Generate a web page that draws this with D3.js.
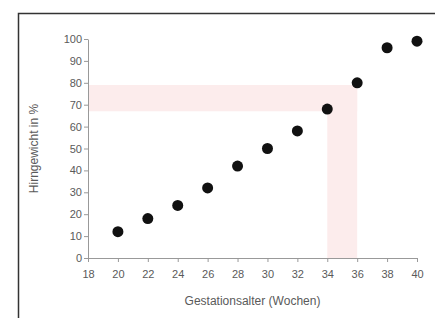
<!DOCTYPE html>
<html>
<head>
<meta charset="utf-8">
<script src="https://cdn.jsdelivr.net/npm/d3@7"></script>
<style>
    body { margin: 0; background: #fff; }
    svg { display: block; }
    .axis text { font-family: "Liberation Sans", Arial, sans-serif; font-size: 11px; fill: #5a5a5a; }
    .axis path, .axis line { stroke: #999; }
</style>
</head>
<body>
<div id="chart"></div>
<script>

// Gestationsalter (Wochen) vs. Hirngewicht in %
var weeks = [20, 22, 24, 26, 28, 30, 32, 34, 36, 38, 40];
var brainWeight = [12, 18, 24, 32, 42, 50, 58, 68, 80, 96, 99];
var xTicks = [18, 20, 22, 24, 26, 28, 30, 32, 34, 36, 38, 40];
var yTicks = [0, 10, 20, 30, 40, 50, 60, 70, 80, 90, 100];

// highlighted range
var bandWeeks = [34, 36];
var bandPercent = [67, 79];

var width = 435;
var height = 318;
var margin = {top: 39, right: 18, bottom: 60, left: 88};

var svg = d3.select("#chart").append("svg")
    .attr("width", width)
    .attr("height", height);

// frame
svg.append("path")
    .attr("d", "M18.5," + height + "V13.5H" + width)
    .attr("fill", "none")
    .attr("stroke", "#333")
    .attr("stroke-width", 1.5);

var x = d3.scaleLinear()
    .domain([18, 40])
    .range([margin.left, width - margin.right]);

var y = d3.scaleLinear()
    .domain([0, 100])
    .range([height - margin.bottom, margin.top]);

var bandColor = "#fcecec";

// horizontal band
svg.append("rect")
    .attr("x", x(18))
    .attr("y", y(bandPercent[1]))
    .attr("width", x(bandWeeks[1]) - x(18))
    .attr("height", y(bandPercent[0]) - y(bandPercent[1]))
    .attr("fill", bandColor);

// vertical band
svg.append("rect")
    .attr("x", x(bandWeeks[0]))
    .attr("y", y(bandPercent[1]))
    .attr("width", x(bandWeeks[1]) - x(bandWeeks[0]))
    .attr("height", y(0) - y(bandPercent[1]))
    .attr("fill", bandColor);

var xAxis = svg.append("g")
    .attr("class", "axis")
    .attr("transform", "translate(0," + y(0) + ")")
    .call(d3.axisBottom(x).tickValues(xTicks).tickSize(4).tickSizeOuter(0).tickPadding(8));

var yAxis = svg.append("g")
    .attr("class", "axis")
    .attr("transform", "translate(" + x(18) + ",0)")
    .call(d3.axisLeft(y).tickValues(yTicks).tickSize(4).tickSizeOuter(0).tickPadding(2));

svg.selectAll(".dot")
    .data(weeks)
    .enter()
    .append("circle")
    .attr("class", "dot")
    .attr("cx", function (d) { return x(d); })
    .attr("cy", function (d, i) { return y(brainWeight[i]); })
    .attr("r", 5.5)
    .attr("fill", "#111");

svg.append("text")
    .attr("x", (x(18) + x(40)) / 2)
    .attr("y", 305)
    .attr("text-anchor", "middle")
    .style("font-family", "Liberation Sans, Arial, sans-serif")
    .style("font-size", "12px")
    .style("fill", "#5a5a5a")
    .text("Gestationsalter (Wochen)");

svg.append("text")
    .attr("transform", "translate(38," + (y(50)) + ") rotate(-90)")
    .attr("text-anchor", "middle")
    .style("font-family", "Liberation Sans, Arial, sans-serif")
    .style("font-size", "12px")
    .style("fill", "#5a5a5a")
    .text("Hirngewicht in %");

</script>
</body>
</html>
